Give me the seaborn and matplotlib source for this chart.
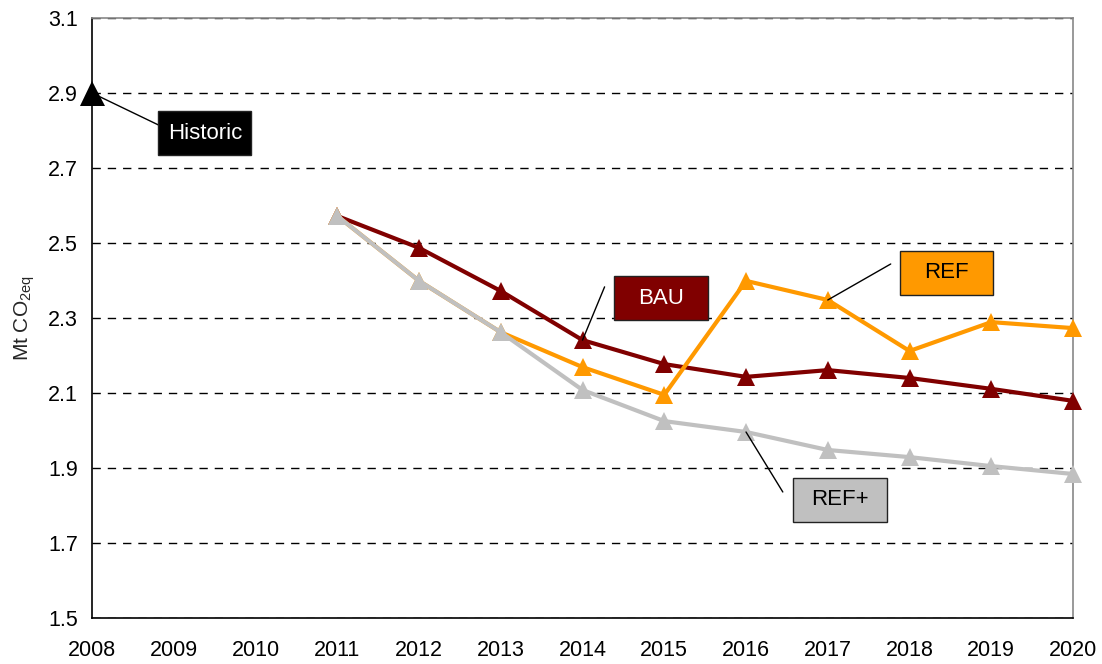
import pandas as pd
import matplotlib.pyplot as plt
import seaborn as sns
from matplotlib.patches import Rectangle

years = [2011, 2012, 2013, 2014, 2015, 2016, 2017, 2018, 2019, 2020]
bau = [2.572, 2.487, 2.372, 2.241, 2.177, 2.143, 2.161, 2.140, 2.111, 2.079]
ref = [2.572, 2.399, 2.262, 2.169, 2.095, 2.399, 2.348, 2.212, 2.289, 2.273]
ref_plus = [2.572, 2.399, 2.262, 2.108, 2.025, 1.996, 1.948, 1.929, 1.905, 1.884]
historic_year = [2008]
historic_value = [2.90]

x_ticks = list(range(2008, 2021))
y_ticks = [1.5, 1.7, 1.9, 2.1, 2.3, 2.5, 2.7, 2.9, 3.1]

sns.set_style("white")
plt.rcParams['font.family'] = ['Liberation Sans', 'DejaVu Sans']
plt.rcParams['mathtext.default'] = 'regular'

df = pd.DataFrame({
    'Year': years * 3,
    'Value': bau + ref + ref_plus,
    'Scenario': ['BAU'] * len(years) + ['REF'] * len(years) + ['REF+'] * len(years),
})
colors = {'BAU': '#800000', 'REF': '#FF9900', 'REF+': '#C0C0C0'}

fig = plt.figure(figsize=(11.02, 6.64), dpi=100)
ax = fig.add_axes([0.0835, 0.0693, 0.8902, 0.9036])

for name in ['BAU', 'REF', 'REF+']:
    sub = df[df['Scenario'] == name]
    sns.lineplot(data=sub, x='Year', y='Value', ax=ax, color=colors[name],
                 linewidth=3, marker='^', markersize=12.5, markeredgewidth=0,
                 clip_on=False, legend=False, zorder=3)

hist = pd.DataFrame({'Year': historic_year, 'Value': historic_value})
sns.lineplot(data=hist, x='Year', y='Value', ax=ax, color='black', marker='^',
             markersize=18, markeredgewidth=0, linewidth=0, clip_on=False,
             legend=False, zorder=4)

ax.set_xlim(2008, 2020)
ax.set_ylim(1.5, 3.1)
ax.set_xticks(x_ticks)
ax.set_xticklabels([str(t) for t in x_ticks])
ax.set_yticks(y_ticks)
ax.set_yticklabels([f'{t:.1f}' for t in y_ticks])
ax.tick_params(axis='both', direction='inout', length=8, width=1, labelsize=15.5,
               colors='black', pad=6)
ax.tick_params(axis='x', pad=12)
ax.set_xlabel('')
ax.set_ylabel(r'Mt CO$_{2eq}$', fontsize=15, labelpad=8)

ax.grid(axis='y', color='black', linestyle=(0, (6, 5)), linewidth=1)
ax.grid(axis='x', visible=False)
ax.set_axisbelow(True)
for side in ['left', 'bottom']:
    ax.spines[side].set_color('black')
    ax.spines[side].set_linewidth(1.2)
for side in ['right', 'top']:
    ax.spines[side].set_color('#888888')
    ax.spines[side].set_linewidth(1.2)

# label boxes: (text, box centre, connector start, connector end, fill, text colour)
labels = [
    ('Historic', (2009.38, 2.793), (2008.0, 2.90), (2008.81, 2.815), 'black', 'white'),
    ('BAU', (2014.96, 2.353), (2014.0, 2.241), (2014.27, 2.383), '#800000', 'white'),
    ('REF', (2018.45, 2.420), (2017.0, 2.348), (2017.77, 2.444), '#FF9900', 'black'),
    ('REF+', (2017.15, 1.815), (2016.0, 1.996), (2016.45, 1.836), '#C0C0C0', 'black'),
]
box_w, box_h = 1.14, 0.118
for text, (cx, cy), p0, p1, fill, tcolor in labels:
    ax.annotate('', xy=p0, xytext=p1,
                arrowprops=dict(arrowstyle='-', color='black', lw=1,
                                shrinkA=0, shrinkB=0), zorder=5)
    ax.add_patch(Rectangle((cx - box_w / 2, cy - box_h / 2), box_w, box_h,
                           facecolor=fill, edgecolor='#222222', lw=1, zorder=6))
    ax.text(cx, cy, text, ha='center', va='center', fontsize=16, color=tcolor,
            zorder=7)

fig.savefig('out.png', dpi=100)
